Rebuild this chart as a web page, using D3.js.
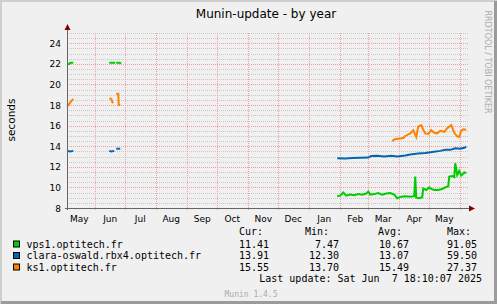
<!DOCTYPE html>
<html>
<head>
<meta charset="utf-8">
<script src="https://cdn.jsdelivr.net/npm/d3@7"></script>
<style>
  body { margin: 0; background: #f0f0f0; }
  svg { display: block; }
</style>
</head>
<body>
<svg id="chart" width="497" height="304"></svg>
<script>
// munin-update runtime, yearly view
const months = ['May', 'Jun', 'Jul', 'Aug', 'Sep', 'Oct', 'Nov', 'Dec', 'Jan', 'Feb', 'Mar', 'Apr', 'May'];
const monthStarts = ['2024-06-01', '2024-07-01', '2024-08-01', '2024-09-01', '2024-10-01', '2024-11-01',
  '2024-12-01', '2025-01-01', '2025-02-01', '2025-03-01', '2025-04-01', '2025-05-01', '2025-06-01'];
const monthMids = ['2024-05-16', '2024-06-16', '2024-07-16', '2024-08-16', '2024-09-16', '2024-10-16',
  '2024-11-16', '2024-12-16', '2025-01-16', '2025-02-16', '2025-03-16', '2025-04-16', '2025-05-16'];
const yTicks = [8, 10, 12, 14, 16, 18, 20, 22, 24];

// [date, value], null value = no data (gap)
const vps1 = [
  ['2024-05-04', 22.0], ['2024-05-06', 22.0], ['2024-05-07', 22.1], ['2024-05-10', 22.1], ['2024-05-11', null],
  ['2024-06-15', 22.1], ['2024-06-21', 22.1], ['2024-06-21T12:00', null],
  ['2024-06-22', 22.1], ['2024-06-25', 22.1], ['2024-06-27', 22.05], ['2024-06-28', null],
  ['2025-01-29', 9.15], ['2025-02-01', 9.2], ['2025-02-04', 9.5], ['2025-02-07', 9.2], ['2025-02-11', 9.3],
  ['2025-02-15', 9.25], ['2025-02-19', 9.35], ['2025-02-23', 9.3], ['2025-02-27', 9.4], ['2025-03-01', 9.6],
  ['2025-03-03', 9.3], ['2025-03-07', 9.35], ['2025-03-11', 9.45], ['2025-03-15', 9.3], ['2025-03-19', 9.4],
  ['2025-03-23', 9.45], ['2025-03-27', 9.3], ['2025-03-30', 8.95], ['2025-04-03', 9.1], ['2025-04-07', 9.15],
  ['2025-04-12', 9.1], ['2025-04-16', 9.15], ['2025-04-17', 11.05], ['2025-04-18', 9.0], ['2025-04-21', 8.95],
  ['2025-04-24', 9.05], ['2025-04-25', 9.9], ['2025-04-28', 9.75], ['2025-05-01', 10.0], ['2025-05-03', 9.85],
  ['2025-05-06', 9.75], ['2025-05-10', 9.75], ['2025-05-14', 9.85], ['2025-05-18', 10.05], ['2025-05-20', 10.1],
  ['2025-05-21', 11.05], ['2025-05-24', 11.1], ['2025-05-26', 11.0], ['2025-05-27', 12.35], ['2025-05-29', 11.2],
  ['2025-05-31', 11.6], ['2025-06-02', 11.15], ['2025-06-05', 11.45], ['2025-06-07', 11.4]
];
const clara = [
  ['2024-05-04', 13.55], ['2024-05-07', 13.5], ['2024-05-10', 13.55], ['2024-05-11', null],
  ['2024-06-15', 13.55], ['2024-06-17', 13.5], ['2024-06-20', 13.55], ['2024-06-21', null],
  ['2024-06-22', 13.75], ['2024-06-26', 13.75], ['2024-06-27', null],
  ['2025-01-29', 12.83], ['2025-02-06', 12.82], ['2025-02-13', 12.85], ['2025-02-21', 12.88], ['2025-03-01', 12.9],
  ['2025-03-04', 13.05], ['2025-03-10', 13.08], ['2025-03-17', 13.0], ['2025-03-24', 13.08], ['2025-03-30', 13.0],
  ['2025-04-07', 13.1], ['2025-04-12', 13.2], ['2025-04-20', 13.3], ['2025-04-27', 13.35], ['2025-05-04', 13.45],
  ['2025-05-12', 13.55], ['2025-05-17', 13.65], ['2025-05-22', 13.65], ['2025-05-27', 13.8], ['2025-06-01', 13.75],
  ['2025-06-05', 13.85], ['2025-06-07', 13.95]
];
const ks1 = [
  ['2024-05-04', 17.9], ['2024-05-06', 18.1], ['2024-05-07', 18.25], ['2024-05-09', 18.5], ['2024-05-10', 18.6], ['2024-05-11', null],
  ['2024-06-15', 18.65], ['2024-06-17', 18.6], ['2024-06-18', 18.3], ['2024-06-19', 18.2], ['2024-06-20', null],
  ['2024-06-22', 19.1], ['2024-06-24', 19.1], ['2024-06-24T12:00', 18.0], ['2024-06-26', 18.0], ['2024-06-27', null],
  ['2025-03-25', 14.5], ['2025-03-28', 14.7], ['2025-04-02', 14.75], ['2025-04-05', 14.8], ['2025-04-07', 15.0],
  ['2025-04-12', 15.25], ['2025-04-15', 15.55], ['2025-04-18', 14.9], ['2025-04-20', 15.9], ['2025-04-23', 16.05],
  ['2025-04-25', 15.6], ['2025-04-27', 15.25], ['2025-04-30', 15.2], ['2025-05-03', 15.55], ['2025-05-06', 15.3],
  ['2025-05-09', 15.25], ['2025-05-12', 15.5], ['2025-05-16', 15.4], ['2025-05-19', 15.75], ['2025-05-23', 16.05],
  ['2025-05-26', 15.3], ['2025-05-29', 14.95], ['2025-05-31', 14.9], ['2025-06-02', 15.5], ['2025-06-04', 15.65],
  ['2025-06-07', 15.6]
];

const seriesNames = ['vps1.optitech.fr', 'clara-oswald.rbx4.optitech.fr', 'ks1.optitech.fr'];
const seriesColors = ['#00cc00', '#0066b3', '#ff8000'];
const curValues = ['11.41', '13.91', '15.55'];
const minValues = ['7.47', '12.30', '13.70'];
const avgValues = ['10.67', '13.07', '15.49'];
const maxValues = ['91.05', '59.50', '27.37'];

const parse = d3.isoParse;
const svg = d3.select('#chart');
const W = 497, H = 304;
const plotLeft = 67, plotRight = 467, plotTop = 33, plotBottom = 208;

// background + 3d frame
svg.append('rect').attr('width', W).attr('height', H).attr('fill', '#f0f0f0');
svg.append('path').attr('d', `M0,${H} V0 H${W}`).attr('stroke', '#cfcfcf').attr('stroke-width', 4).attr('fill', 'none');
svg.append('path').attr('d', `M1,${H - 1.5} H${W - 1.5} V1`).attr('stroke', '#9b9b9b').attr('stroke-width', 3).attr('fill', 'none');

var x = d3.scaleTime()
  .domain([new Date('2024-05-03T18:10'), new Date('2025-06-07T18:10')])
  .range([plotLeft, plotRight]);
var y = d3.scaleLinear().domain([8, 25]).range([plotBottom, plotTop]);

const grid = svg.append('g');
// minor horizontal grid
grid.selectAll('.minor')
  .data(d3.range(8.5, 25.01, 0.5).filter(v => v % 2 !== 0))
  .enter().append('line')
  .attr('x1', plotLeft).attr('x2', plotRight + 1)
  .attr('y1', d => Math.round(y(d)) + 0.5).attr('y2', d => Math.round(y(d)) + 0.5)
  .attr('stroke', '#c8c8c8').attr('stroke-dasharray', '1,1');
// major grid
grid.selectAll('.major')
  .data(yTicks.slice(1))
  .enter().append('line')
  .attr('x1', plotLeft).attr('x2', plotRight + 1)
  .attr('y1', d => Math.round(y(d)) + 0.5).attr('y2', d => Math.round(y(d)) + 0.5)
  .attr('stroke', '#f0a0a0').attr('stroke-dasharray', '1,1');
grid.selectAll('.vmajor')
  .data(monthStarts.map(parse))
  .enter().append('line')
  .attr('x1', d => Math.round(x(d)) + 0.5).attr('x2', d => Math.round(x(d)) + 0.5)
  .attr('y1', plotTop).attr('y2', plotBottom + 2)
  .attr('stroke', '#f0a0a0').attr('stroke-dasharray', '1,1');

// series
const line = d3.line()
  .defined(d => d[1] !== null)
  .x(d => x(parse(d[0])))
  .y(d => y(d[1]));
[vps1, clara, ks1].forEach((s, i) => {
  svg.append('path')
    .datum(s)
    .attr('d', line)
    .attr('fill', 'none')
    .attr('stroke', seriesColors[i])
    .attr('stroke-width', 2)
    .attr('stroke-linejoin', 'miter');
});

// axes
svg.append('line').attr('x1', plotLeft + 0.5).attr('x2', plotLeft + 0.5).attr('y1', plotBottom + 2).attr('y2', plotTop - 4)
  .attr('stroke', '#666');
svg.append('line').attr('x1', plotLeft - 2).attr('x2', plotRight + 2).attr('y1', plotBottom + 0.5).attr('y2', plotBottom + 0.5)
  .attr('stroke', '#666');
svg.append('path').attr('d', `M${plotLeft - 2.5},${plotTop - 3} L${plotLeft + 3.5},${plotTop - 3} L${plotLeft + 0.5},${plotTop - 9} Z`).attr('fill', '#7f0000');
svg.append('path').attr('d', `M${plotRight + 2},${plotBottom - 2.5} L${plotRight + 2},${plotBottom + 3.5} L${plotRight + 8},${plotBottom + 0.5} Z`).attr('fill', '#7f0000');

// y tick labels
svg.selectAll('.ylab')
  .data(yTicks)
  .enter().append('text')
  .attr('x', 61).attr('y', d => y(d) + 3.5)
  .attr('text-anchor', 'end')
  .attr('font-family', 'DejaVu Sans').attr('font-size', 9)
  .attr('fill', '#000')
  .text(d => d);

// month labels
svg.selectAll('.xlab')
  .data(months)
  .enter().append('text')
  .attr('x', (d, i) => x(parse(monthMids[i])))
  .attr('y', 222)
  .attr('text-anchor', 'middle')
  .attr('font-family', 'DejaVu Sans').attr('font-size', 9)
  .text(d => d);

// title, unit label, watermark
svg.append('text').attr('x', 266).attr('y', 18).attr('text-anchor', 'middle')
  .attr('font-family', 'DejaVu Sans').attr('font-size', 12).text('Munin-update - by year');
svg.append('text').attr('transform', 'translate(14.5,120) rotate(-90)').attr('text-anchor', 'middle')
  .attr('font-family', 'DejaVu Sans').attr('font-size', 10.5).text('seconds');
svg.append('text').attr('transform', 'translate(484.5,62) rotate(90)').attr('text-anchor', 'middle')
  .attr('font-family', 'DejaVu Sans').attr('font-size', 8).attr('fill', '#aaa').text('RRDTOOL / TOBI OETIKER');

// legend
const mono = 'DejaVu Sans Mono';
const legend = svg.append('g').attr('font-family', mono).attr('font-size', 10);
const headers = [['Cur:', 239], ['Min:', 305], ['Avg:', 378], ['Max:', 447]];
headers.forEach(h => legend.append('text').attr('x', h[1]).attr('y', 235).text(h[0]));
const rowY = [247.5, 259, 270.5];
const cols = [[curValues, 269], [minValues, 339], [avgValues, 409], [maxValues, 477]];
seriesNames.forEach((name, i) => {
  legend.append('rect').attr('x', 13.5).attr('y', rowY[i] - 6.5).attr('width', 6).attr('height', 6)
    .attr('fill', seriesColors[i]).attr('stroke', '#000');
  legend.append('text').attr('x', 26.5).attr('y', rowY[i]).text(name);
  cols.forEach(c => legend.append('text').attr('x', c[1]).attr('y', rowY[i]).attr('text-anchor', 'end').text(c[0][i]));
});
legend.append('text').attr('x', 482).attr('y', 282).attr('text-anchor', 'end').style('white-space', 'pre')
  .text('Last update: Sat Jun  7 18:10:07 2025');
svg.append('text').attr('x', 251).attr('y', 296.5).attr('text-anchor', 'middle')
  .attr('font-family', mono).attr('font-size', 8).attr('fill', '#aaa').text('Munin 1.4.5');
</script>
</body>
</html>
